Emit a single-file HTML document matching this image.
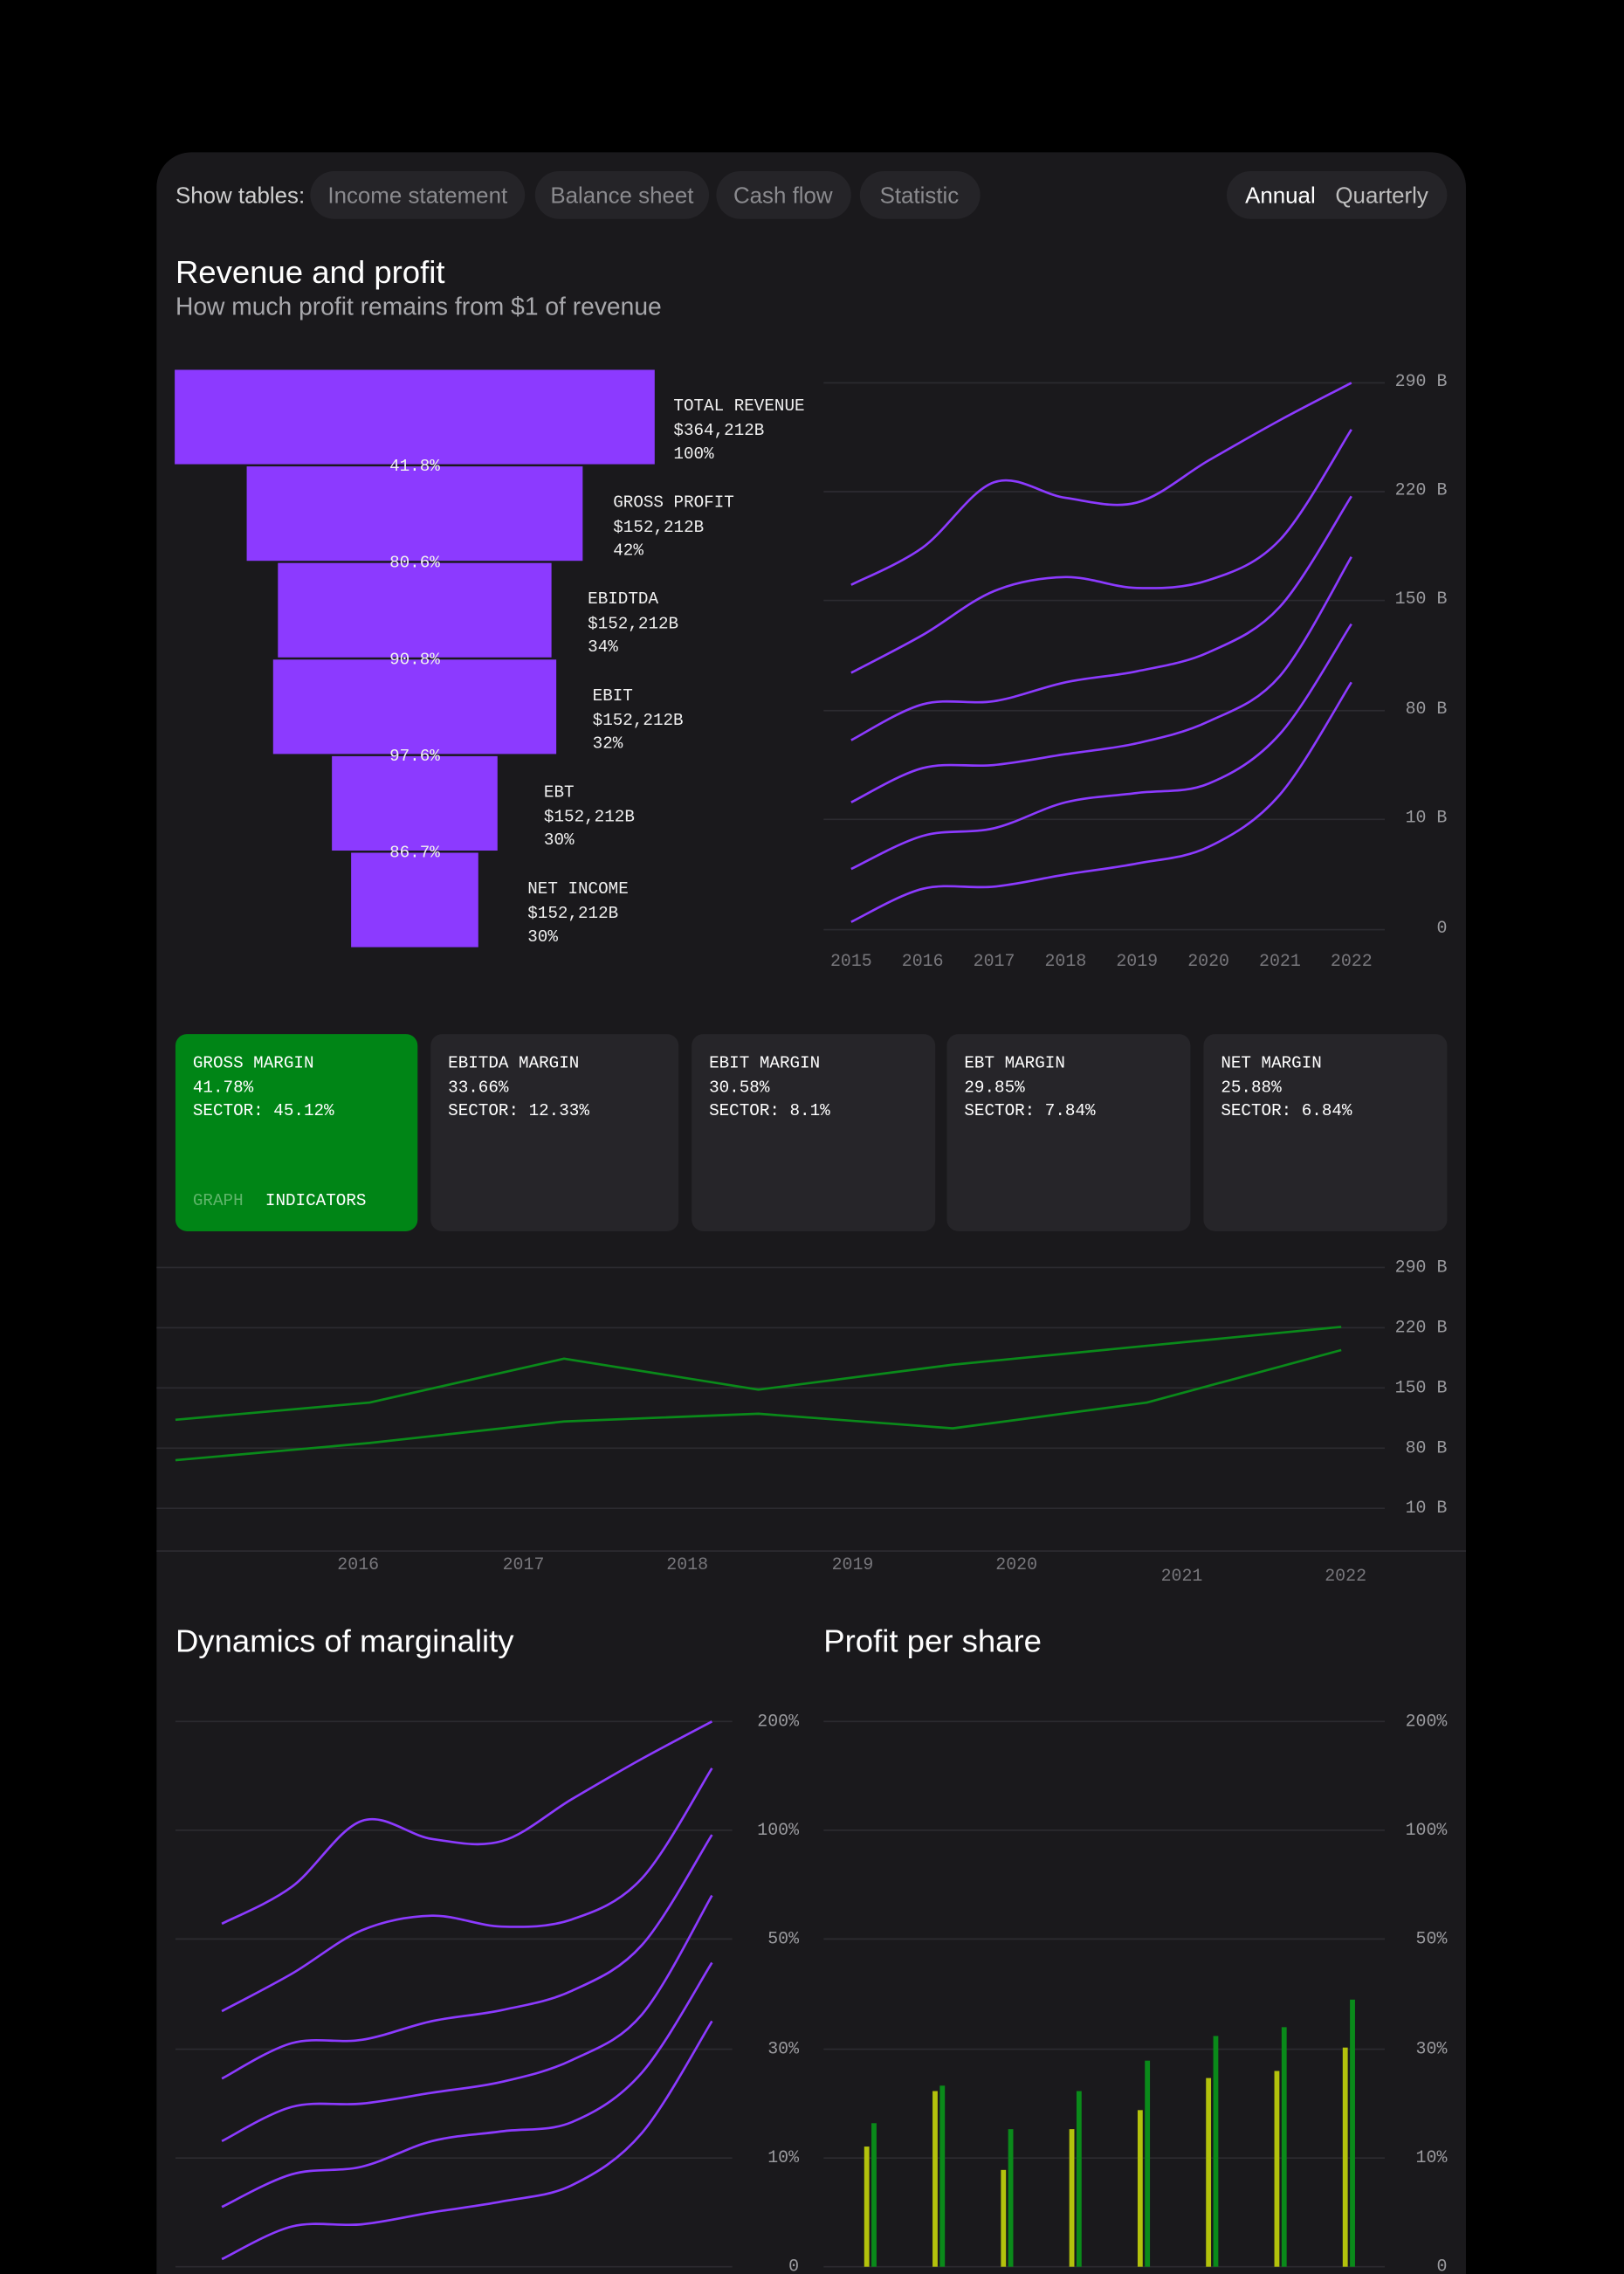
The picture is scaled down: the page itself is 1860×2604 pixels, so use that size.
<!DOCTYPE html>
<html><head><meta charset="utf-8">
<style>
html,body{margin:0;padding:0;background:#000;}
svg{display:block;}
.sans{font-family:"Liberation Sans",sans-serif;}
.mono{font-family:"Liberation Mono",monospace;}
</style></head>
<body>
<svg id="root" width="1860" height="2604" viewBox="0 0 1120 1568" xmlns="http://www.w3.org/2000/svg">
<rect x="0" y="0" width="1120" height="1568" fill="#000"/>
<rect x="108" y="105" width="903" height="1520" rx="24" fill="#1a191c"/>
<g class="sans" font-size="15.6">
<text x="121" y="140" fill="#cfcfcf">Show tables:</text>
<g><rect x="214" y="118" width="148" height="33" rx="16.5" fill="#252428"/><text x="288" y="140" text-anchor="middle" fill="#8a8a8e">Income statement</text></g>
<g><rect x="369" y="118" width="120" height="33" rx="16.5" fill="#252428"/><text x="429" y="140" text-anchor="middle" fill="#8a8a8e">Balance sheet</text></g>
<g><rect x="494" y="118" width="93" height="33" rx="16.5" fill="#252428"/><text x="540" y="140" text-anchor="middle" fill="#8a8a8e">Cash flow</text></g>
<g><rect x="593" y="118" width="83" height="33" rx="16.5" fill="#252428"/><text x="634" y="140" text-anchor="middle" fill="#8a8a8e">Statistic</text></g>
<rect x="846" y="118" width="152" height="33" rx="16.5" fill="#252428"/>
<text x="883" y="140" text-anchor="middle" fill="#ffffff">Annual</text>
<text x="953" y="140" text-anchor="middle" fill="#bdbdbd">Quarterly</text>
<text x="121" y="195" font-size="22" fill="#ffffff">Revenue and profit</text>
<text x="121" y="217" font-size="17" fill="#a8a8ac">How much profit remains from $1 of revenue</text>
<text x="121" y="1139" font-size="22" fill="#ffffff">Dynamics of marginality</text>
<text x="568" y="1139" font-size="22" fill="#ffffff">Profit per share</text>
</g>
<g id="funnel" class="mono" font-size="11.6"></g>
<g id="chart1" class="mono" font-size="12"></g>
<g id="cards" class="mono" font-size="11.6"></g>
<g id="chart2" class="mono" font-size="12"></g>
<g id="chart3" class="mono" font-size="12"></g>
<g id="chart4" class="mono" font-size="12"></g>
</svg>
<script>
const NS="http://www.w3.org/2000/svg";
function mk(parent,tag,attrs,text){const e=document.createElementNS(NS,tag);for(const k in attrs)e.setAttribute(k,attrs[k]);if(text!==undefined)e.textContent=text;parent.appendChild(e);return e;}
function smooth(pts){let d="M"+pts[0][0]+","+pts[0][1];for(let i=0;i<pts.length-1;i++){const p0=pts[i-1]||pts[i],p1=pts[i],p2=pts[i+1],p3=pts[i+2]||p2;const c1x=p1[0]+(p2[0]-p0[0])/6,c1y=p1[1]+(p2[1]-p0[1])/6,c2x=p2[0]-(p3[0]-p1[0])/6,c2y=p2[1]-(p3[1]-p1[1])/6;d+=" C"+c1x+","+c1y+" "+c2x+","+c2y+" "+p2[0]+","+p2[1];}return d;}
function piece(ticks,pos){return v=>{for(let i=0;i<ticks.length-1;i++){const a=ticks[i],b=ticks[i+1];if((v<=a&&v>=b)||i===ticks.length-2){return pos[i]+(v-a)/(b-a)*(pos[i+1]-pos[i]);}}};}

/* ---------- funnel ---------- */
const funnelNames=["TOTAL REVENUE","GROSS PROFIT","EBIDTDA","EBIT","EBT","NET INCOME"];
const funnelAmounts=["$364,212B","$152,212B","$152,212B","$152,212B","$152,212B","$152,212B"];
const funnelShares=[100,42,34,32,30,30];
const funnelWidths=[100,70,57,59,34.5,26.5];
const funnelConv=["41.8%","80.6%","90.8%","97.6%","86.7%"];
(function(){const g=document.getElementById("funnel");const cx=286,full=331,top=255,rowH=66.6;const gaps=[13,21,25,25,32,34];
funnelWidths.forEach((w,i)=>{const bw=full*w/100,x=cx-bw/2,y=top+i*rowH;
const r=mk(g,"rect",{x:x,y:y,width:bw,height:rowH-1.5,fill:"#8c3aff"});


const lx=x+bw+gaps[i];
const t=mk(g,"text",{x:lx,y:y+28,fill:"#f0f0f0"},funnelNames[i]);


mk(g,"text",{x:lx,y:y+45,fill:"#f0f0f0"},funnelAmounts[i]);
mk(g,"text",{x:lx,y:y+61,fill:"#f0f0f0"},funnelShares[i]+"%");
});
funnelConv.forEach((c,i)=>{const t=mk(g,"text",{x:cx,y:top+(i+1)*rowH+3,"text-anchor":"middle",fill:"#f0f0f0"},c);

});
})();

/* ---------- chart1: revenue lines ---------- */
const years1=["2015","2016","2017","2018","2019","2020","2021","2022"];
const ticks1=[290,220,150,80,10,0];
const tickLabels1=["290 B","220 B","150 B","80 B","10 B","0"];
const rev1=[160,184,226,216,213,240,266,290];
const rev2=[104,128,156,165,158,163,189,260];
const rev3=[61,84,86,98,105,117,146,217];
const rev4=[21,43,45,52,59,73,102,178];
const rev5=[5.5,8.5,9.2,21,27,33,65,135];
const rev6=[0.7,3.7,3.9,5,6,7.5,26,98];
(function(){const g=document.getElementById("chart1");const tp=[264,339,414,490,565,641];const y=piece(ticks1,tp);const x=i=>587+i*(932-587)/(years1.length-1);
ticks1.forEach((t,i)=>{const l=mk(g,"line",{x1:568,x2:955,y1:y(t),y2:y(t),stroke:"#2c2b30","stroke-width":1});


const tx=mk(g,"text",{x:998,y:y(t)+2,"text-anchor":"end",fill:"#9a9a9e"},tickLabels1[i]);

});
years1.forEach((yr,i)=>{const t=mk(g,"text",{x:x(i),y:666,"text-anchor":"middle",fill:"#77767b"},yr);

});
[rev1,rev2,rev3,rev4,rev5,rev6].forEach((s,k)=>{const p=mk(g,"path",{d:smooth(s.map((v,i)=>[x(i),y(v)])),fill:"none",stroke:"#8c3aff","stroke-width":1.6});

});
})();

/* ---------- cards ---------- */
const cardTitles=["GROSS MARGIN","EBITDA MARGIN","EBIT MARGIN","EBT MARGIN","NET MARGIN"];
const cardValues=["41.78%","33.66%","30.58%","29.85%","25.88%"];
const cardSectors=["45.12%","12.33%","8.1%","7.84%","6.84%"];
(function(){const g=document.getElementById("cards");const xs=[[121,288],[297,468],[477,645],[653,821],[830,998]];
xs.forEach((c,i)=>{const r=mk(g,"rect",{x:c[0],y:713,width:c[1]-c[0],height:136,rx:8,fill:i===0?"#008516":"#262529"});


mk(g,"text",{x:c[0]+12,y:736,fill:"#ffffff"},cardTitles[i]);
mk(g,"text",{x:c[0]+12,y:753,fill:"#ffffff"},cardValues[i]);
mk(g,"text",{x:c[0]+12,y:769,fill:"#ffffff"},"SECTOR: "+cardSectors[i]);});
const a=mk(g,"text",{x:133,y:831,fill:"#5fb56a"},"GRAPH");


const b=mk(g,"text",{x:183,y:831,fill:"#ffffff"},"INDICATORS");


})();

/* ---------- chart2: green lines ---------- */
const years2=["2016","2017","2018","2019","2020","2021","2022"];
const ticks2=[290,220,150,80,10];
const tickLabels2=["290 B","220 B","150 B","80 B","10 B"];
const marginA=[113,133,184,148,177,199,221];
const marginB=[66,86,111,120,103,133,194];
(function(){const g=document.getElementById("chart2");const y=v=>874+(290-v)*0.593;const x=i=>121+i*(925-121)/(marginA.length-1);
ticks2.forEach((t,i)=>{const l=mk(g,"line",{x1:108,x2:955,y1:y(t),y2:y(t),stroke:"#2c2b30","stroke-width":1});


const tx=mk(g,"text",{x:998,y:y(t)+3,"text-anchor":"end",fill:"#9a9a9e"},tickLabels2[i]);

});
mk(g,"line",{x1:108,x2:1011,y1:1069.5,y2:1069.5,stroke:"#2c2b30","stroke-width":1});
const lx=[247,361,474,588,701,815,928],ly=[1082,1082,1082,1082,1082,1090,1090];
years2.forEach((yr,i)=>{const t=mk(g,"text",{x:lx[i],y:ly[i],"text-anchor":"middle",fill:"#77767b"},yr);

});
[marginA,marginB].forEach((s,k)=>{const p=mk(g,"path",{d:"M"+s.map((v,i)=>x(i)+","+y(v)).join(" L"),fill:"none",stroke:"#0a8a1a","stroke-width":1.6,"stroke-linejoin":"round"});

});
})();

/* ---------- chart3: marginality ---------- */
const ticks3=[200,100,50,30,10,0];
const tickLabels3=["200%","100%","50%","30%","10%","0"];
const marg1=[57,74,108.6,96,95,128.6,165.7,200];
const marg2=[36.9,43.7,54,60.7,55.7,59,77.9,157];
const marg3=[24.6,31.1,31.7,35.1,37.1,40.6,48.9,97.9];
const marg4=[13.1,19.4,20,22,24,28,36.3,70];
const marg5=[5.5,8.5,9.2,13.1,14.9,16.6,25.7,45.7];
const marg6=[0.7,3.7,3.9,5,6,7.5,14.6,35.1];
const tp3=[1187,1262,1337,1413,1488,1563];
(function(){const g=document.getElementById("chart3");const y=piece(ticks3,tp3);const x=i=>153+i*(491-153)/(marg1.length-1);
ticks3.forEach((t,i)=>{const l=mk(g,"line",{x1:121,x2:505,y1:y(t),y2:y(t),stroke:"#2c2b30","stroke-width":1});


const tx=mk(g,"text",{x:551,y:y(t)+3,"text-anchor":"end",fill:"#9a9a9e"},tickLabels3[i]);

});
[marg1,marg2,marg3,marg4,marg5,marg6].forEach((s,k)=>{const p=mk(g,"path",{d:smooth(s.map((v,i)=>[x(i),y(v)])),fill:"none",stroke:"#8c3aff","stroke-width":1.6});

});
})();

/* ---------- chart4: profit per share ---------- */
const eps1=[12.1,22.3,8.9,15.3,18.8,24.7,26,30.3];
const eps2=[16.4,23.3,15.3,22.3,27.9,32.4,34,39];
(function(){const g=document.getElementById("chart4");const y=piece(ticks3,tp3);const x=i=>598+i*(928-598)/(eps1.length-1);
ticks3.forEach((t,i)=>{const l=mk(g,"line",{x1:568,x2:955,y1:y(t),y2:y(t),stroke:"#2c2b30","stroke-width":1});


const tx=mk(g,"text",{x:998,y:y(t)+3,"text-anchor":"end",fill:"#9a9a9e"},tickLabels3[i]);

});
eps1.forEach((v,i)=>{const r=mk(g,"rect",{x:x(i)-2,y:y(v),width:3.5,height:y(0)-y(v),fill:"#b3c20c"});

});
eps2.forEach((v,i)=>{const r=mk(g,"rect",{x:x(i)+3,y:y(v),width:3.5,height:y(0)-y(v),fill:"#0a8a1a"});

});
})();
</script>
</body></html>
